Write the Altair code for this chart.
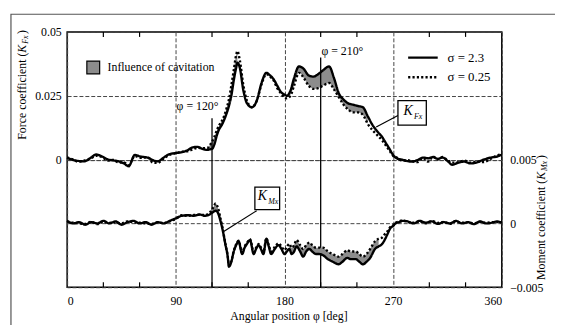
import altair as alt
import pandas as pd

# ------------------------------------------------------------------ data
series_names = ["σ = 2.3", "σ = 0.25"]
cavitation_label = "Influence of cavitation"

force_angle = [0, 4, 9, 14, 19, 24, 29, 34, 38, 43, 47, 51, 56, 61, 67, 71, 75, 80, 84, 89,
               94, 99, 104, 108, 112, 116, 118, 120, 122, 124, 126, 128, 130, 132, 134, 136, 138, 140, 141, 143,
               146, 149, 153, 157, 161, 165, 168, 171, 174, 177, 180, 182, 185, 188, 192, 196, 200, 204, 208, 212,
               217, 221, 225, 229, 233, 237, 241, 245, 249, 253, 257, 261, 264, 267, 270, 273, 277, 281, 286, 290,
               295, 299, 303, 307, 311, 315, 319, 324, 329, 334, 340, 345, 351, 356, 360]
force_sigma_high = [0.0007, 0.0000, -0.0005, -0.0007, 0.0005, 0.0020, 0.0012, 0.0000, -0.0003, -0.0007,
                    -0.0015, -0.0026, 0.0018, 0.0012, 0.0007, -0.0002, -0.0007, 0.0008, 0.0020, 0.0025,
                    0.0028, 0.0035, 0.0048, 0.0050, 0.0042, 0.0038, 0.0040, 0.0042, 0.0060, 0.0095,
                    0.0120, 0.0135, 0.0155, 0.0180, 0.0210, 0.0250, 0.0310, 0.0360, 0.0380, 0.0360,
                    0.0270, 0.0220, 0.0205, 0.0230, 0.0300, 0.0340, 0.0330, 0.0315, 0.0290, 0.0265,
                    0.0255, 0.0250, 0.0270, 0.0320, 0.0365, 0.0355, 0.0330, 0.0325, 0.0335, 0.0350,
                    0.0365, 0.0320, 0.0260, 0.0235, 0.0220, 0.0215, 0.0210, 0.0205, 0.0170, 0.0135,
                    0.0110, 0.0088, 0.0065, 0.0042, 0.0018, 0.0005, 0.0000, -0.0005, -0.0008, -0.0002,
                    0.0008, 0.0005, 0.0010, 0.0003, 0.0008, -0.0005, -0.0020, -0.0012, -0.0008, -0.0015,
                    -0.0010, 0.0000, 0.0008, 0.0012, 0.0020]
force_sigma_low = [0.0009, 0.0002, -0.0008, -0.0004, 0.0003, 0.0015, 0.0010, -0.0004, -0.0001, -0.0012,
                   -0.0011, -0.0022, 0.0014, 0.0007, 0.0009, -0.0012, -0.0013, 0.0004, 0.0017, 0.0024,
                   0.0030, 0.0032, 0.0040, 0.0046, 0.0045, 0.0045, 0.0055, 0.0070, 0.0090, 0.0115,
                   0.0135, 0.0150, 0.0170, 0.0200, 0.0235, 0.0290, 0.0350, 0.0410, 0.0425, 0.0390,
                   0.0290, 0.0230, 0.0205, 0.0230, 0.0295, 0.0335, 0.0325, 0.0310, 0.0280, 0.0260,
                   0.0245, 0.0240, 0.0250, 0.0290, 0.0340, 0.0320, 0.0290, 0.0277, 0.0280, 0.0290,
                   0.0300, 0.0275, 0.0245, 0.0215, 0.0195, 0.0185, 0.0185, 0.0175, 0.0140, 0.0115,
                   0.0095, 0.0075, 0.0055, 0.0035, 0.0015, 0.0008, -0.0003, -0.0002, -0.0006, -0.0010,
                   0.0005, -0.0008, 0.0012, 0.0001, 0.0010, -0.0002, -0.0012, -0.0010, -0.0004, -0.0012,
                   -0.0008, -0.0010, 0.0004, 0.0016, 0.0022]

moment_angle = [0, 5, 10, 15, 20, 25, 30, 35, 40, 45, 50, 55, 60, 65, 70, 75, 80, 85, 90, 95,
                100, 105, 110, 114, 118, 121, 123, 125, 127, 129, 131, 133, 134, 136, 138, 140, 142, 145, 147, 149,
                151.5, 154.5, 156.5, 158.7, 160.5, 162.6, 165, 167, 169, 172, 175, 177.5, 180, 182, 184, 186, 188, 190, 193, 195.5,
                198, 200.5, 203, 206, 209, 212, 216, 220, 225, 228, 232, 235, 239, 242, 245, 248, 251, 255, 258, 261,
                263.5, 265.5, 267.5, 270, 272, 275, 278, 282, 287, 292, 297, 302, 307, 312, 317, 322, 327, 332, 337, 342,
                347, 352, 356, 360]
moment_sigma_high = [0.00020, 0.00000, 0.00010, -0.00010, 0.00010, 0.00000, 0.00020, 0.00000, 0.00016, -0.00010,
                     0.00010, 0.00020, 0.00000, 0.00010, -0.00010, 0.00010, 0.00000, 0.00020, 0.00040, 0.00060,
                     0.00064, 0.00060, 0.00070, 0.00060, 0.00070, 0.00090, 0.00100, 0.00080, 0.00020, -0.00060,
                     -0.00160, -0.00260, -0.00340, -0.00300, -0.00220, -0.00170, -0.00140, -0.00240, -0.00190, -0.00160,
                     -0.00130, -0.00240, -0.00200, -0.00170, -0.00200, -0.00240, -0.00120, -0.00180, -0.00240, -0.00200,
                     -0.00170, -0.00200, -0.00240, -0.00220, -0.00200, -0.00240, -0.00220, -0.00180, -0.00220, -0.00260,
                     -0.00220, -0.00200, -0.00220, -0.00240, -0.00240, -0.00250, -0.00280, -0.00300, -0.00320, -0.00300,
                     -0.00270, -0.00280, -0.00280, -0.00300, -0.00320, -0.00300, -0.00270, -0.00200, -0.00180, -0.00160,
                     -0.00120, -0.00080, -0.00040, -0.00020, 0.00000, 0.00010, 0.00020, 0.00016, 0.00000, 0.00020,
                     0.00006, 0.00016, -0.00004, 0.00010, 0.00000, 0.00020, 0.00000, 0.00010, -0.00006, 0.00016,
                     0.00000, 0.00006, 0.00016, 0.00006]
moment_sigma_low = [0.00016, 0.00006, 0.00000, -0.00004, 0.00012, -0.00006, 0.00012, 0.00004, 0.00008, 0.00000,
                    0.00016, 0.00008, 0.00006, 0.00000, -0.00004, 0.00008, 0.00004, 0.00016, 0.00036, 0.00064,
                    0.00060, 0.00066, 0.00068, 0.00066, 0.00084, 0.00124, 0.00156, 0.00120, 0.00040, -0.00050,
                    -0.00156, -0.00256, -0.00330, -0.00296, -0.00216, -0.00164, -0.00136, -0.00230, -0.00180, -0.00152,
                    -0.00124, -0.00224, -0.00190, -0.00160, -0.00188, -0.00224, -0.00116, -0.00170, -0.00220, -0.00184,
                    -0.00156, -0.00180, -0.00210, -0.00184, -0.00160, -0.00190, -0.00170, -0.00130, -0.00170, -0.00200,
                    -0.00170, -0.00150, -0.00170, -0.00190, -0.00190, -0.00190, -0.00220, -0.00240, -0.00260, -0.00240,
                    -0.00210, -0.00220, -0.00220, -0.00240, -0.00260, -0.00240, -0.00200, -0.00140, -0.00120, -0.00110,
                    -0.00080, -0.00060, -0.00030, -0.00016, 0.00004, 0.00016, 0.00024, 0.00010, 0.00006, 0.00016,
                    0.00000, 0.00020, 0.00004, 0.00012, -0.00004, 0.00016, 0.00006, 0.00008, 0.00000, 0.00012,
                    0.00004, 0.00010, 0.00010, 0.00008]

force_cavitation_ranges = [[116, 141], [185, 249]]
moment_cavitation_ranges = [[118, 127], [184, 258]]

x_tick_labels = [0, 90, 180, 270, 360]
x_minor_ticks = [30, 60, 120, 150, 210, 240, 300, 330]
force_ticks = [0, 0.025, 0.05]
moment_ticks = [-0.005, 0, 0.005]
force_domain = [-0.05, 0.05]
moment_domain = [-0.005, 0.015]

marker_angles = [120, 210]
marker_tops = [0.0162, 0.040]
marker_texts = ["φ = 120°", "φ = 210°"]
marker_text_angles = [108, 228]
marker_text_values = [0.0208, 0.0425]

kfx_box = {"a1": 274, "a2": 297.5, "v1": 0.0135, "v2": 0.0231}
kfx_link = {"a1": 274, "v1": 0.0173, "a2": 256, "v2": 0.0128}
kmx_box = {"a1": 155.5, "a2": 176, "v1": 0.00108, "v2": 0.00285}
kmx_link = {"a1": 157, "v1": 0.00100, "a2": 130, "v2": -0.00062}

# ------------------------------------------------------------------ tables
n_f = len(force_angle)
force_df = pd.DataFrame({
    "angle": force_angle * 2,
    "value": force_sigma_high + force_sigma_low,
    "series": [series_names[0]] * n_f + [series_names[1]] * n_f,
})
n_m = len(moment_angle)
moment_df = pd.DataFrame({
    "angle": moment_angle * 2,
    "value": moment_sigma_high + moment_sigma_low,
    "series": [series_names[0]] * n_m + [series_names[1]] * n_m,
})


def band(angles, hi, lo, ranges):
    rows = []
    for a, h, l in zip(angles, hi, lo):
        for s, (r0, r1) in enumerate(ranges):
            if r0 <= a <= r1:
                rows.append({"angle": a, "hi": h, "lo": l, "seg": s, "label": cavitation_label})
    return pd.DataFrame(rows)


force_band = band(force_angle, force_sigma_high, force_sigma_low, force_cavitation_ranges)
moment_band = band(moment_angle, moment_sigma_high, moment_sigma_low, moment_cavitation_ranges)

marker_df = pd.DataFrame({"angle": marker_angles, "top": marker_tops,
                          "bottom": [force_domain[0]] * len(marker_angles)})
marker_text_df = pd.DataFrame({"angle": marker_text_angles, "value": marker_text_values, "text": marker_texts})
tick_df = pd.DataFrame({"angle": x_minor_ticks})

# ------------------------------------------------------------------ encodings
FONT = "Liberation Serif"
W, H = 441, 259
GRID = "#444"

x_axis = alt.Axis(values=x_tick_labels, grid=True, gridColor=GRID, gridDash=[4, 2], gridWidth=1,
                  ticks=False, domain=False, labelPadding=9, title=None)
yf_axis = alt.Axis(values=force_ticks, grid=True, gridColor=GRID, gridDash=[4, 2], gridWidth=1,
                   ticks=False, domain=False, labelPadding=6, format="~g", title=None, orient="left")
ym_axis = alt.Axis(values=moment_ticks, grid=True, gridColor=GRID, gridDash=[4, 2], gridWidth=1,
                   ticks=False, domain=False, labelPadding=8, format="~g", title=None, orient="right")
x_scale = alt.Scale(domain=[0, 360], nice=False, zero=False)
yf_scale = alt.Scale(domain=force_domain, nice=False, zero=False)
ym_scale = alt.Scale(domain=moment_domain, nice=False, zero=False)


def X(f):
    return alt.X(f"{f}:Q", scale=x_scale, axis=x_axis)


def YF(f):
    return alt.Y(f"{f}:Q", scale=yf_scale, axis=yf_axis)


def YM(f):
    return alt.Y(f"{f}:Q", scale=ym_scale, axis=ym_axis)


dash = alt.StrokeDash(
    "series:N",
    scale=alt.Scale(domain=series_names, range=[[1, 0], [2.2, 2.2]]),
    legend=alt.Legend(title=None, orient="none", legendX=354.5, legendY=19.5,
                      symbolType="M-3,0H3", symbolSize=100, symbolStrokeWidth=2.4,
                      symbolStrokeColor="black", labelOffset=18.5, labelFont=FONT,
                      labelFontSize=13, labelColor="black", rowPadding=6, padding=0),
)
fill = alt.Fill(
    "label:N",
    scale=alt.Scale(domain=[cavitation_label], range=["#8c8c8c"]),
    legend=alt.Legend(title=None, orient="none", legendX=19, legendY=28.5,
                      symbolType="square", symbolSize=169, symbolStrokeColor="black",
                      symbolStrokeWidth=1.2, labelOffset=7, labelFont=FONT, labelFontSize=12,
                      labelColor="black", padding=0),
)

one = pd.DataFrame({"k": [0]})

# ------------------------------------------------------------------ force layers
frame = alt.Chart(one).mark_rect(filled=False, stroke="#555", strokeWidth=1.2).encode(
    x=alt.value(-57), x2=alt.value(520), y=alt.value(-18), y2=alt.value(340))

ticks_top = alt.Chart(tick_df).mark_rule(color="black", strokeWidth=1.2).encode(
    x=X("angle"), y=alt.value(0), y2=alt.value(5))
ticks_bot = alt.Chart(tick_df).mark_rule(color="black", strokeWidth=1.2).encode(
    x=X("angle"), y=alt.value(H - 5), y2=alt.value(H))

f_band = alt.Chart(force_band).mark_area(interpolate="monotone").encode(
    x=X("angle"), y=YF("hi"), y2=alt.Y2("lo"), fill=fill, detail="seg:N")
f_lines = alt.Chart(force_df).mark_line(interpolate="monotone", color="black", strokeWidth=2.4).encode(
    x=X("angle"), y=YF("value"), strokeDash=dash)

markers = alt.Chart(marker_df).mark_rule(color="black", strokeWidth=1.3).encode(
    x=X("angle"), y=YF("top"), y2=alt.Y2("bottom"))
marker_text = alt.Chart(marker_text_df).mark_text(font=FONT, fontSize=12, color="black").encode(
    x=X("angle"), y=YF("value"), text="text:N")

kfx_df = pd.DataFrame([kfx_box])
kfx_link_df = pd.DataFrame([kfx_link])
kfx_rect = alt.Chart(kfx_df).mark_rect(filled=False, stroke="black", strokeWidth=1.3).encode(
    x=X("a1"), x2="a2", y=YF("v1"), y2="v2")
kfx_line = alt.Chart(kfx_link_df).mark_rule(color="black", strokeWidth=1.2).encode(
    x=X("a1"), x2="a2", y=YF("v1"), y2="v2")
kfx_c = pd.DataFrame({"a": [(kfx_box["a1"] + kfx_box["a2"]) / 2],
                      "v": [(kfx_box["v1"] + kfx_box["v2"]) / 2],
                      "k": ["K"], "s": ["Fx"]})
kfx_K = alt.Chart(kfx_c).mark_text(font=FONT, fontSize=14, fontStyle="italic", dx=-4, dy=-2,
                                   color="black").encode(x=X("a"), y=YF("v"), text="k:N")
kfx_S = alt.Chart(kfx_c).mark_text(font=FONT, fontSize=8, fontStyle="italic", dx=6, dy=4,
                                   color="black").encode(x=X("a"), y=YF("v"), text="s:N")


def title_piece(txt, x, y, size=12, style="normal", align="right", angle=270):
    return alt.Chart(pd.DataFrame({"t": [txt]})).mark_text(
        font=FONT, fontSize=size, fontStyle=style, align=align, baseline="middle",
        angle=angle, color="black").encode(x=alt.value(x), y=alt.value(y), text="t:N")


left_title = [
    title_piece("Force coefficient (", -46, 21),
    title_piece("K", -46, 13, style="italic"),
    title_piece("Fx", -42, 12, size=8, style="italic", align="left"),
    title_piece(")", -46, 2, align="left"),
]
right_title = [
    title_piece("Moment coefficient (", 481, 150),
    title_piece("K", 481, 142, style="italic"),
    title_piece("Mx", 485, 141, size=8, style="italic", align="left"),
    title_piece(")", 481, 129, align="left"),
]
bottom_title = alt.Chart(pd.DataFrame({"t": ["Angular position  φ  [deg]"]})).mark_text(
    font=FONT, fontSize=12, align="center", baseline="alphabetic", color="black").encode(
    x=alt.value(225), y=alt.value(H + 33), text="t:N")

force_layer = alt.layer(frame, ticks_top, ticks_bot, f_band, f_lines, markers, marker_text,
                        kfx_rect, kfx_line, kfx_K, kfx_S, *left_title, *right_title, bottom_title)

# ------------------------------------------------------------------ moment layers
m_band = alt.Chart(moment_band).mark_area(interpolate="monotone").encode(
    x=X("angle"), y=YM("hi"), y2=alt.Y2("lo"), fill=fill, detail="seg:N")
m_lines = alt.Chart(moment_df).mark_line(interpolate="monotone", color="black", strokeWidth=2.4).encode(
    x=X("angle"), y=YM("value"), strokeDash=dash)
kmx_df = pd.DataFrame([kmx_box])
kmx_link_df = pd.DataFrame([kmx_link])
kmx_rect = alt.Chart(kmx_df).mark_rect(filled=False, stroke="black", strokeWidth=1.3).encode(
    x=X("a1"), x2="a2", y=YM("v1"), y2="v2")
kmx_line = alt.Chart(kmx_link_df).mark_rule(color="black", strokeWidth=1.2).encode(
    x=X("a1"), x2="a2", y=YM("v1"), y2="v2")
kmx_c = pd.DataFrame({"a": [(kmx_box["a1"] + kmx_box["a2"]) / 2],
                      "v": [(kmx_box["v1"] + kmx_box["v2"]) / 2],
                      "k": ["K"], "s": ["Mx"]})
kmx_K = alt.Chart(kmx_c).mark_text(font=FONT, fontSize=14, fontStyle="italic", dx=-5, dy=-2,
                                   color="black").encode(x=X("a"), y=YM("v"), text="k:N")
kmx_S = alt.Chart(kmx_c).mark_text(font=FONT, fontSize=8, fontStyle="italic", dx=6, dy=4,
                                   color="black").encode(x=X("a"), y=YM("v"), text="s:N")

moment_layer = alt.layer(m_band, m_lines, kmx_rect, kmx_line, kmx_K, kmx_S)

chart = alt.layer(force_layer, moment_layer).resolve_scale(y="independent").properties(
    width=W, height=H,
    autosize=alt.AutoSizeParams(type="none"),
    padding={"left": 60, "top": 22, "right": 54, "bottom": 36},
    background="white",
).configure_view(stroke="black", strokeWidth=1.5).configure_axis(
    labelFont=FONT, labelFontSize=12, labelColor="black"
)

chart.save("out.html", embed_options={"renderer": "svg", "actions": False})
